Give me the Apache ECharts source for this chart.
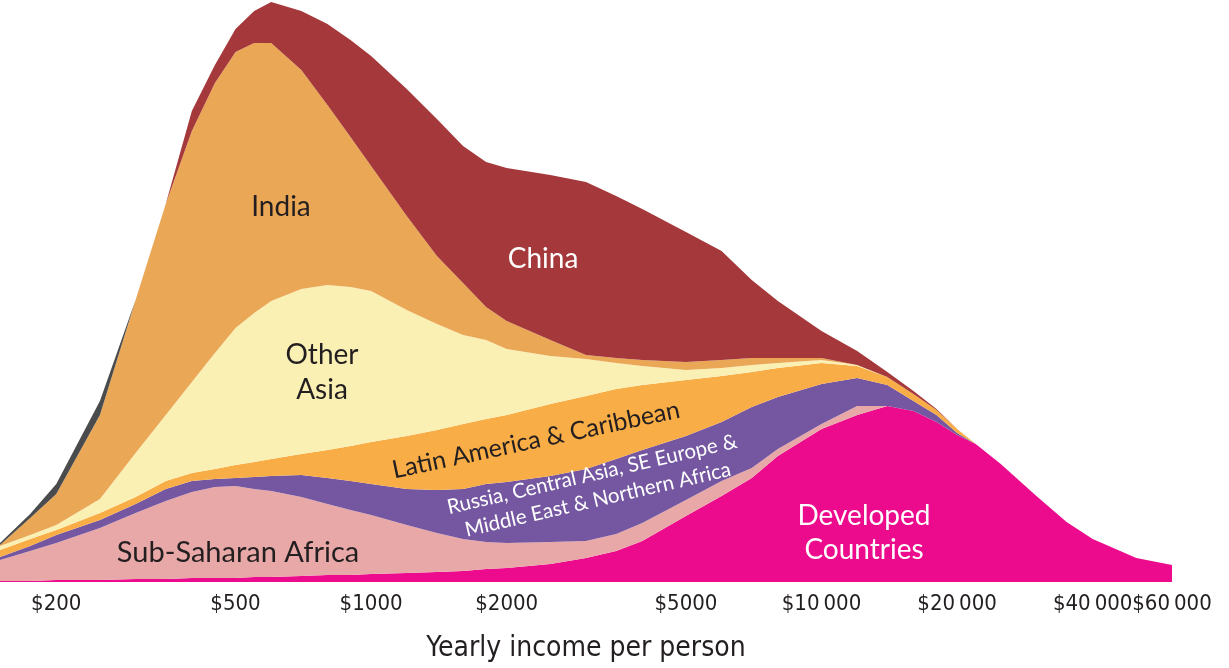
<!DOCTYPE html>
<html><head><meta charset="utf-8">
<script src="https://cdn.jsdelivr.net/npm/echarts@6/dist/echarts.min.js"></script>
<style>html,body{margin:0;padding:0;background:#fff}#c{width:1229px;height:668px}</style>
</head><body><div id="c"></div>
<script>
// Yearly income per person (log scale sample points)
const incomes = [150,175,200,250,300,350,400,450,500,550,600,700,800,900,1000,1200,1400,1600,1800,2000,2500,3000,3500,4000,5000,6000,7000,8000,10000,12000,14000,16000,18000,20000,22000,25000,30000,35000,40000,50000,60000];

// Population density per region (arbitrary units, stacked bottom to top)
const developed  = [1,1,2,2,3,3,4,4,4,5,5,6,7,7,8,9,10,11,13,14,18,24,31,41,66,86,104,126,153,167,176,171,160,147,138,118,86,60,43,24,17];
const subSaharan = [21,30,37,52,66,78,86,91,92,88,86,79,71,65,59,48,39,32,27,25,22,17,17,18,16,15,10,7,5,9,0,0,0,0,0,0,0,0,0,0,0];
const russiaMENA = [3,5,8,8,9,12,11,8,8,12,15,22,26,29,31,36,43,50,58,61,66,72,75,73,64,59,61,52,40,28,21,10,7,2,0,0,0,0,0,0,0];
const latinAm    = [7,7,5,7,7,8,8,10,13,15,17,21,28,35,42,53,60,65,65,67,72,73,70,65,56,46,35,29,21,12,8,7,5,4,0,0,0,0,0,0,0];
const otherAsia  = [4,4,5,14,44,66,91,116,137,149,158,165,165,159,151,126,106,89,79,66,48,37,26,19,10,8,7,5,3,1,0,0,0,0,0,0,0,0,0,0,0];
const india      = [1,17,31,84,153,211,251,270,276,270,258,219,180,150,125,94,68,52,33,28,16,4,5,6,8,8,7,5,2,0,0,0,0,0,0,0,0,0,0,0,0];
const china      = [0,0,0,0,0,0,20,18,23,32,41,59,81,97,110,127,137,137,145,153,165,173,162,151,130,109,78,57,27,14,5,3,1,0,0,0,0,0,0,0,0];
const otherLow   = [2,4,10,14,0,0,0,0,0,0,0,0,0,0,0,0,0,0,0,0,0,0,0,0,0,0,0,0,0,0,0,0,0,0,0,0,0,0,0,0,0];

const tickValues = [200,500,1000,2000,5000,10000,20000,40000,60000];

const layers = [
  {name:'Developed Countries', values: developed,  color:'#ED0B8D'},
  {name:'Sub-Saharan Africa',  values: subSaharan, color:'#E9A8A8'},
  {name:'Russia, Central Asia, SE Europe & Middle East & Northern Africa', values: russiaMENA, color:'#7457A0'},
  {name:'Latin America & Caribbean', values: latinAm, color:'#F9AD46'},
  {name:'Other Asia', values: otherAsia, color:'#FBF0B4'},
  {name:'India', values: india, color:'#EAA756'},
  {name:'China', values: china, color:'#A4383A'},
  {name:'Other', values: otherLow, color:'#4A4B4D'}
];

const chart = echarts.init(document.getElementById('c'), null, {renderer:'canvas'});
const labelFont = 'Lato, "Noto Sans", sans-serif';
const axisFont = '"Liberation Sans Narrow", "DejaVu Sans Condensed", Roboto, sans-serif';

function fmt(v){
  const s = String(Math.round(v));
  return '$' + (v >= 10000 ? s.slice(0,-3) + '\u2009' + s.slice(-3) : s);
}

function label(x, y, text, fill, size, lineHeight, rotDeg){
  return {type:'text', x:x, y:y, z:100, zlevel:0, silent:true,
    rotation:(rotDeg||0)*Math.PI/180,
    style:{text:text, fill:fill, fontSize:size, lineHeight:lineHeight, fontFamily:labelFont, align:'center', verticalAlign:'middle'}};
}

chart.setOption({
  animation:false,
  backgroundColor:'#ffffff',
  grid:{left:0, right:57, top:0, bottom:86},
  xAxis:{
    type:'log', logBase:10, min:150, max:60000,
    axisLine:{show:false}, axisTick:{show:false}, splitLine:{show:false},
    axisLabel:{customValues: tickValues, formatter: fmt, color:'#231F20', fontSize:22, fontFamily: axisFont, margin:11,
      hideOverlap:false, showMinLabel:true, showMaxLabel:true},
    name:'Yearly income per person', nameLocation:'middle', nameGap:53,
    nameTextStyle:{color:'#231F20', fontSize:28, fontFamily: axisFont}
  },
  yAxis:{type:'value', min:0, max:582, show:false},
  series: layers.map(l => ({
    name:l.name, type:'line', stack:'total', symbol:'none', silent:true,
    // value first so that the stack is computed on the y dimension
    dimensions:['amount','income'],
    encode:{x:1, y:0},
    lineStyle:{width:0, opacity:0},
    areaStyle:{color:l.color, opacity:1},
    emphasis:{disabled:true},
    data: incomes.map((x,i)=>[l.values[i], x])
  })),
  graphic:{elements:[
    label(281, 207, 'India', '#231F20', 28, 34),
    label(543, 259, 'China', '#ffffff', 28, 34),
    label(322, 372, 'Other\nAsia', '#231F20', 28, 35),
    label(238, 553, 'Sub-Saharan Africa', '#231F20', 29, 34),
    label(864, 533, 'Developed\nCountries', '#ffffff', 28, 34),
    label(536, 440, 'Latin America & Caribbean', '#231F20', 25, 30, 12),
    label(595, 487, 'Russia, Central Asia, SE Europe &\nMiddle East & Northern Africa', '#ffffff', 20.5, 26, 13)
  ]}
});
</script>
</body></html>
